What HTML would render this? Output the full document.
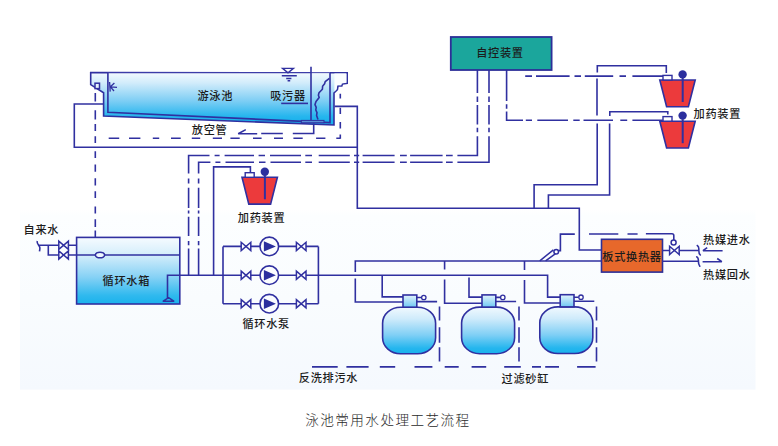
<!DOCTYPE html>
<html lang="zh-CN">
<head>
<meta charset="utf-8">
<title>泳池常用水处理工艺流程</title>
<style>
html,body{margin:0;padding:0;background:#fff;}
body{width:778px;height:446px;overflow:hidden;position:relative;font-family:"Liberation Sans","Noto Sans CJK SC",sans-serif;}
svg{position:absolute;left:0;top:0;display:block;}
.l{fill:none;stroke:#3030a0;stroke-width:1.6;}
.s{stroke:#3030a0;stroke-width:1.6;}
.t{font-family:"Liberation Sans","Noto Sans CJK SC",sans-serif;font-size:11.2px;font-weight:500;fill:#1c1c1c;letter-spacing:0.7px;}
.title{font-family:"Liberation Sans","Noto Sans CJK SC",sans-serif;font-size:13.6px;font-weight:300;fill:#2a2a2a;letter-spacing:1.45px;}
</style>
</head>
<body>
<svg width="778" height="446" viewBox="0 0 778 446">
<defs>
<linearGradient id="bg" x1="0" y1="0" x2="0" y2="1">
<stop offset="0" stop-color="#ffffff"/>
<stop offset="0.04" stop-color="#fcfeff"/>
<stop offset="0.5" stop-color="#f9fcfe"/>
<stop offset="1" stop-color="#f5f9fe"/>
</linearGradient>
<linearGradient id="water" gradientUnits="userSpaceOnUse" x1="0" y1="72" x2="0" y2="121">
<stop offset="0" stop-color="#f5fbff"/>
<stop offset="0.22" stop-color="#d2ecfb"/>
<stop offset="0.6" stop-color="#7bcdf4"/>
<stop offset="0.9" stop-color="#27b6ee"/>
<stop offset="1" stop-color="#1ab2ec"/>
</linearGradient>
<linearGradient id="tank" x1="0" y1="0" x2="0" y2="1">
<stop offset="0" stop-color="#f6fbff"/>
<stop offset="0.27" stop-color="#d3edfb"/>
<stop offset="0.6" stop-color="#85d1f5"/>
<stop offset="0.87" stop-color="#30b9ee"/>
<stop offset="1" stop-color="#1ab2ec"/>
</linearGradient>
<linearGradient id="flt" x1="0" y1="0" x2="0" y2="1">
<stop offset="0" stop-color="#f1f9fe"/>
<stop offset="0.25" stop-color="#cfebfb"/>
<stop offset="0.6" stop-color="#7fcff5"/>
<stop offset="0.88" stop-color="#25b6ee"/>
<stop offset="1" stop-color="#18b2ec"/>
</linearGradient>
<linearGradient id="neck" x1="0" y1="0" x2="0" y2="1">
<stop offset="0" stop-color="#e2f3fc"/>
<stop offset="1" stop-color="#6fc8f3"/>
</linearGradient>
<g id="valve"><path class="s" style="stroke-width:1.5;stroke-linejoin:miter" fill="#fdfeff" d="M-4.8,-4.1 L-4.8,4.1 L4.8,-4.1 L4.8,4.1 Z"/></g>
<g id="pump"><circle class="s" cx="0" cy="0" r="9.3" fill="#fbfdff"/><path d="M-5.4,-5.2 L6.6,0 L-5.4,5.2 Z" fill="#2b2f9e"/></g>
<g id="bucket">
<path d="M0,0 L35.4,0 L28.6,26.8 L6.8,26.8 Z" fill="#ec3a3c" stroke="#3030a0" stroke-width="1.6"/>
<rect x="3.2" y="-4.6" width="9" height="4.6" fill="#fff" stroke="#3030a0" stroke-width="1.4"/>
<circle cx="22.8" cy="-5.6" r="4.2" fill="#2b2f9e"/>
<path class="l" style="stroke-width:2" d="M22.9,-2 L22.9,22"/>
</g>
<g id="filter">
<rect x="0" y="12.5" width="53" height="46.6" rx="18" ry="16" fill="url(#flt)" stroke="#3030a0" stroke-width="1.6"/>
<rect x="20.4" y="0.3" width="13.8" height="12.2" fill="url(#neck)" stroke="#3030a0" stroke-width="1.6"/>
<path class="l" d="M34.2,2.8 L39,2.8 M34.2,6.9 L54.5,6.9"/>
<circle class="s" cx="41.2" cy="2.8" r="2.2" fill="#fff" style="stroke-width:1.3"/>
</g>
</defs>
<rect x="20" y="209" width="735.5" height="180.6" fill="url(#bg)"/>

<!-- POOL -->
<g id="pool">
<path d="M90.7,72.5 L90.7,84.6 L103.6,92.7 L103.6,116 L334,125 L334,93 L337.4,89.6 L338,86 L341.8,86 L342.4,84 L347.2,83.4 L347.2,72.8 Z" fill="url(#water)" stroke="#3030a0" stroke-width="1.6"/>
<path d="M334.4,73.6 H346.4 V82.8 L341.6,83.4 L341.2,85.2 H337.2 L336.6,89.2 L334.4,91.8 Z" fill="#fafdff"/>
<path d="M107.9,72.5 L107.9,112.3 L330,122.6 L330,72.7" fill="url(#water)" stroke="#3030a0" stroke-width="1.6"/>
<path d="M107.9,72.6 H311" fill="none" stroke="#3c3ca8" stroke-width="1.2"/>
<path d="M311,72.7 H330" fill="none" stroke="#6a6cc0" stroke-width="0.9"/>
<rect x="95" y="83.2" width="4.5" height="5.4" fill="#e6f4fc" stroke="#3030a0" stroke-width="1.5"/>
<path class="l" style="stroke-width:1.3" d="M109.6,82 L110.2,91.6 M110.4,86.8 L114.4,83 M110.4,86.8 L117,87.4 M110.4,86.8 L114,91"/>
<!-- water level mark -->
<path class="l" style="stroke-width:1.4" d="M282.6,68.4 L293.4,68.4 L288,72.8 Z M281.8,75.7 L296.8,75.7 M286.2,78.5 L291.4,78.5 M287.6,80.8 L290.2,80.8"/>
<!-- suction device -->
<path class="l" d="M311,66.8 L311,120.6"/>
<rect x="301.3" y="120.4" width="22.7" height="2.4" fill="#5b8fd6" stroke="#3030a0" stroke-width="1"/>
<path class="l" style="stroke-width:1.6;stroke-linejoin:round" d="M329.4,78.3 L325.2,81.6 L324.6,83.8 L322.6,86.2 L322.4,89.2 L319,92.8 L318.4,95.2 L319.2,97.6 L316,101.6 L315,104.6 L316.2,107.4 L315.8,110 L317,112.6 L316.6,115.4 L318,119.4"/>
<path class="l" d="M281.2,103.4 L308,103.4"/>
<text class="t" x="197.4" y="100.2">游泳池</text>
<text class="t" x="270.2" y="100.2">吸污器</text>
</g>
<text class="t" x="191.8" y="133.8">放空管</text>
<!-- platform -->
<path class="l" d="M103.7,104 L74.3,104 L74.3,147.3 L357.3,147.3 M334.6,106.4 L357.3,106.4 L357.3,208.3 L579.3,208.3 L579.3,250 L601.5,250"/>
<!-- drain pipe -->
<path class="l" d="M313.7,123.6 L313.7,133.5 L292.8,133.5 M282.8,133.5 L261.2,133.5 M257.2,133.7 L238.2,133.7 L245.8,129.6"/>
<path class="l" d="M108.7,138.2 H119.2 M129,138.2 H140.4 M152.8,138.2 H159.2 M171,138.2 H180.7 M191.8,138.2 H200.2 M212.8,138.2 H222 M230.4,138.2 H239.7 M253,138.2 H261.6 M274,138.2 H283 M293.4,138.2 H302.7 M316.1,138.2 H325.4 M336.3,138.2 H340.3"/>
<path class="l" d="M340.3,93.7 V98.6 M340.3,107.8 V114 M340.3,122 V128.4 M340.3,134.5 V138.8"/>
<path class="l" d="M95.3,93 V101.4 M95.3,110.2 V119.4 M95.3,124 V131 M95.3,136.2 V143 M95.3,151.2 V158 M95.3,164.5 V171.8 M95.3,178.3 V185.4 M95.3,191.3 V198 M95.3,206.5 V213.6 M95.3,219.3 V226.9 M95.3,230.6 V237"/>

<!-- dash-dot control lines -->
<path class="l" d="M188.6,275.2 V248.4 M188.6,245.3 V241 M188.6,236 V216.8 M188.6,213.6 V210.5 M188.6,208 V187.8 M188.6,183.6 V178.6 M188.6,173.5 V155.5 H209.5 M214.6,155.5 H219.6 M224.6,155.5 H254 M258.6,155.5 H265 M270,155.5 H301 M305.3,155.5 H312 M318.7,155.5 H349.8 M354,155.5 H359.2 M362.6,155.5 H394.6 M400,155.5 H406.8 M410.1,155.5 H442.6 M446,155.5 H452.7 M457.4,155.5 H477.4 V136.3 M477.4,132.3 V127.8 M477.4,124.4 V105 M477.4,102 V96.4 M477.4,93 V70"/>
<path class="l" d="M198.6,275.2 V248.4 M198.6,245.3 V241 M198.6,236 V216.8 M198.6,213.6 V210.5 M198.6,208 V187.8 M198.6,183.6 V178.6 M198.6,173.5 V162.2 H210.4 M215.4,162.2 H220.4 M225.5,162.2 H254 M259,162.2 H265.5 M270.5,162.2 H301 M305.3,162.2 H312 M318.7,162.2 H349.8 M354,162.2 H359.2 M362.6,162.2 H394.6 M400,162.2 H406.8 M410.1,162.2 H442.6 M446,162.2 H452.7 M457.4,162.2 H489 V136.3 M489,132.3 V127.8 M489,124.4 V105 M489,102 V96.4 M489,93 V70"/>
<!-- control -> dosing -->
<path class="l" d="M506.6,70 V100.9 M506.6,104.2 V108.7 M506.6,111.6 V120.2 H523 M525.8,120.2 H532 M537.3,120.2 H568 M573.3,120.2 H579.7 M583.5,120.2 H613 M620.3,120.2 H627.2 M632.4,120.2 H662.7"/>
<path class="l" d="M525.2,76.1 H532 M536,76.1 H569.6 M574.5,76.1 H581 M584.8,76.1 H613.2 M619.5,76.1 H626 M632.4,76.1 H663"/>

<!-- control unit -->
<rect x="450.8" y="37" width="100.8" height="33" fill="#1ba69c" stroke="#2d2f98" stroke-width="1.8"/>
<text class="t" x="476.2" y="57.1">自控装置</text>

<!-- dosing devices right -->
<path class="l" d="M597.3,72.5 V65.7 H666.3 V73 M597,78.5 V115.5 M597.2,123.6 V184.8 H534.1 V208.3 M609.8,116 V111.8 H667.8 V114.6 M609.6,123.6 V195 H548.4 V208.3"/>
<use href="#bucket" x="659.8" y="80"/>
<use href="#bucket" x="659.8" y="121.2"/>
<text class="t" x="693.6" y="118.2">加药装置</text>

<!-- middle dosing -->
<path class="l" d="M213.6,275.2 V166.9 H250.4 V172.7"/>
<use href="#bucket" x="242" y="177.3"/>
<text class="t" x="237.8" y="222.2">加药装置</text>

<!-- water tank -->
<rect x="76.6" y="237.4" width="103.2" height="66.6" fill="url(#tank)" stroke="#3030a0" stroke-width="1.6"/>
<path class="l" d="M76.5,255 H179.8"/>
<ellipse class="s" cx="100" cy="255" rx="4.6" ry="2.8" fill="#eef8fe"/>
<path class="l" d="M37.2,241 C36.6,244.2 39.3,245 39.8,247.4 C40.1,249 39.6,250.4 39.5,251.3 M38.2,245.2 H76.5 M48.3,245.2 V255 H76.5"/>
<use href="#valve" x="63.6" y="245.2"/>
<use href="#valve" x="63.6" y="255"/>
<text class="t" x="23.6" y="233.6">自来水</text>
<text class="t" x="102.6" y="284.8">循环水箱</text>
<!-- suction -->
<path class="l" d="M167.5,298 V275.2 H223"/>
<path class="l" style="stroke-width:1.4;stroke-linejoin:round" d="M168.6,297.6 L173.8,301.2 L163.2,301.2 Z"/>

<!-- pumps -->
<path class="l" d="M223,246.4 V303.7 M318.4,246.4 V303.7 M223,246.4 H318.4 M223,275.2 H547.6 V297.1 H560.3 M223,303.7 H318.4"/>
<use href="#pump" x="269.3" y="246.4"/><use href="#pump" x="269.3" y="275.2"/><use href="#pump" x="269.3" y="303.7"/>
<use href="#valve" x="246" y="246.4"/><use href="#valve" x="246" y="275.2"/><use href="#valve" x="246" y="303.7"/>
<use href="#valve" x="301.2" y="246.4"/><use href="#valve" x="301.2" y="275.2"/><use href="#valve" x="301.2" y="303.7"/>
<text class="t" x="242.4" y="327.8">循环水泵</text>

<!-- filter piping -->
<path class="l" d="M355.3,272 V261 H601.5 M355.3,278.4 V302 H403 M382.2,275.2 V296.9 H403 M444.6,261 V269.4 M444.6,279.5 V303.3 H482 M469,277.4 V297.1 H482 M524.5,261 V270 M524.5,280 V303 H560.3"/>
<use href="#filter" x="382.6" y="294.7"/>
<use href="#filter" x="461.6" y="294.6"/>
<use href="#filter" x="539.8" y="294.4"/>
<path class="l" d="M439.5,306.5 V320.5 M439.5,327.3 V342.8 M439.5,347.3 V361.5 M519,306.5 V320.5 M519,327.3 V342.8 M519,347.3 V361.5 M596.5,306.5 V320.5 M596.5,327.3 V342.8 M596.5,347.3 V361.5"/>
<path class="l" d="M312,366.9 H337.7 M346.4,366.9 H368.6 M379.8,366.9 H395.2 M414.5,366.9 H432.4 M444.7,366.9 H458.7 M471.6,366.9 H486.2 M504.2,366.9 H520.8 M532,366.9 H541 M545.2,366.9 H559 M577.1,366.9 H595.6"/>
<text class="t" x="298.8" y="382.4">反洗排污水</text>
<text class="t" x="501.6" y="382.8">过滤砂缸</text>

<!-- lever valve -->
<path class="l" style="stroke-width:1.5" d="M539.8,260.8 L553.4,249.8 M545.6,260.8 L555.6,253.6"/>
<circle class="s" cx="556.2" cy="251.8" r="2.3" fill="#fff" style="stroke-width:1.5"/>
<path class="l" d="M558.6,250.6 H560.4 V234.1 H574.8 M589,234 H618.3 M627.5,234 H637.6 M645.9,233.8 H672 Q673.8,233.8 673.8,235.6 V240"/>

<!-- heat exchanger -->
<rect x="601.5" y="239.3" width="61" height="32.8" fill="#e7682b" stroke="#2d2f98" stroke-width="1.6"/>
<text class="t" x="632" y="260.6" text-anchor="middle">板式换热器</text>
<circle class="s" cx="673.6" cy="242.6" r="2.5" fill="#fff" style="stroke-width:1.5"/>
<path class="l" d="M662.4,250.5 H698 M662.4,261.3 H698"/>
<use href="#valve" x="674.4" y="250.4"/>
<path class="l" style="stroke-linecap:round" d="M697.3,245.5 C699.4,246.8 698.8,249 698.8,250.5 C698.8,252.4 699.2,254 700.3,255 M696.7,256.8 C698.8,258 698.4,260 698.4,261.2 C698.4,263.2 698.8,265 699.8,266.2"/>
<path class="l" style="stroke-linejoin:bevel" d="M722.6,250.7 H703 L707.2,247.7 M702.6,261.7 H721.8 L717.2,258.5"/>
<text class="t" x="703" y="244.4">热媒进水</text>
<text class="t" x="703" y="278.6">热媒回水</text>

<text class="title" x="305.2" y="425">泳池常用水处理工艺流程</text>
</svg>
</body>
</html>
